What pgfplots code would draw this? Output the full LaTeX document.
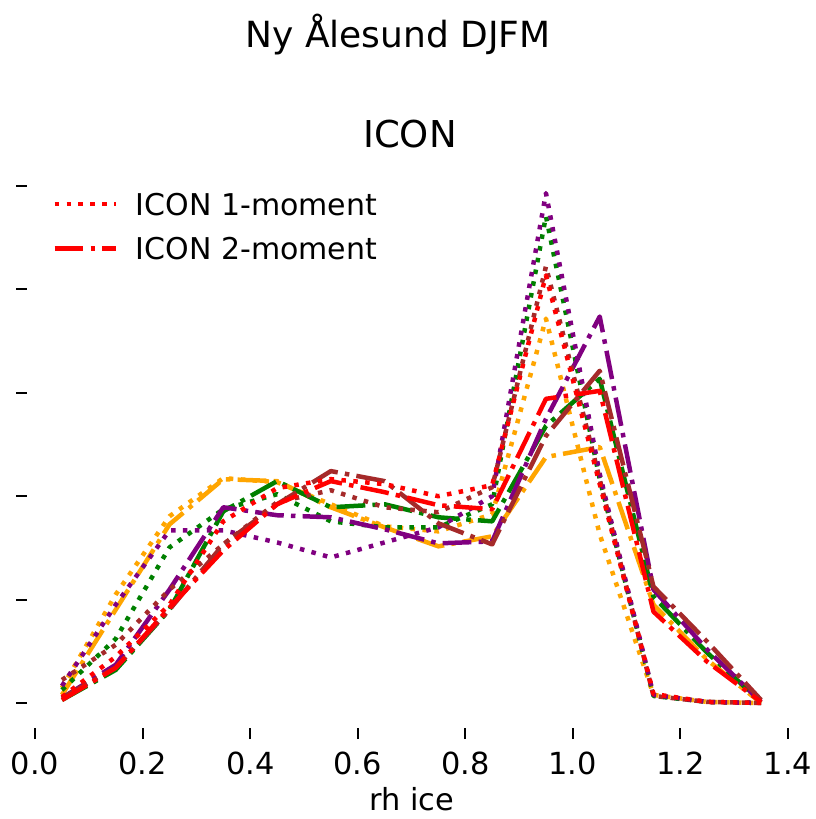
\documentclass[border=0pt]{standalone}
\usepackage{fontspec}
\setmainfont{DejaVu Sans}
\usepackage{pgfplots}
\pgfplotsset{compat=1.18}
\usepackage{pgfplotstable}

\definecolor{mplred}{RGB}{255,0,0}
\definecolor{mplgreen}{RGB}{0,128,0}
\definecolor{mplorange}{RGB}{255,165,0}
\definecolor{mplpurple}{RGB}{128,0,128}
\definecolor{mplbrown}{RGB}{165,42,42}

\pgfplotstableread{
x     dot    dd
0.05  0.058  0.029
0.15  0.447  0.340
0.25  0.951  0.922
0.35  1.757  1.476
0.45  2.078  1.922
0.55  2.165  2.146
0.65  2.117  2.039
0.75  2.000  1.913
0.85  2.107  1.874
0.95  4.136  2.942
1.05  2.117  3.019
1.15  0.087  0.883
1.25  0.010  0.398
1.35  0.000  0.010
}\redtab

\pgfplotstableread{
x     dot    dd
0.05  0.126  0.029
0.15  0.621  0.320
0.25  1.505  0.903
0.35  1.874  1.854
0.45  2.019  2.146
0.55  1.757  1.893
0.65  1.699  1.922
0.75  1.699  1.796
0.85  1.922  1.757
0.95  4.709  2.680
1.05  2.165  3.136
1.15  0.068  1.029
1.25  0.010  0.485
1.35  0.000  0.010
}\greentab

\pgfplotstableread{
x     dot    dd
0.05  0.146  0.078
0.15  1.049  0.903
0.25  1.806  1.728
0.35  2.175  2.165
0.45  2.136  2.146
0.55  1.922  1.893
0.65  1.709  1.699
0.75  1.660  1.515
0.85  1.825  1.612
0.95  3.718  2.379
1.05  1.631  2.476
1.15  0.078  0.951
1.25  0.010  0.417
1.35  0.000  0.000
}\orangetab

\pgfplotstableread{
x     dot    dd
0.05  0.165  0.049
0.15  0.951  0.369
0.25  1.670  1.097
0.35  1.670  1.893
0.45  1.553  1.816
0.55  1.408  1.796
0.65  1.553  1.680
0.75  1.699  1.544
0.85  2.000  1.563
0.95  4.932  2.748
1.05  2.214  3.738
1.15  0.078  1.097
1.25  0.010  0.515
1.35  0.000  0.010
}\purpletab

\pgfplotstableread{
x     dot    dd
0.05  0.223  0.049
0.15  0.563  0.340
0.25  1.097  0.903
0.35  1.534  1.534
0.45  1.942  1.922
0.55  2.058  2.243
0.65  1.893  2.146
0.75  1.845  1.738
0.85  2.087  1.534
0.95  4.223  2.583
1.05  2.165  3.214
1.15  0.068  1.126
1.25  0.010  0.592
1.35  0.000  0.029
}\browntab

\tikzset{
  dotl/.style={line width=2.25pt, dash pattern=on 2.25pt off 3.71pt, line join=round},
  ddl/.style={line width=2.25pt, dash pattern=on 14.4pt off 3.6pt on 2.25pt off 3.6pt, line join=round},
}

\begin{document}
\begin{tikzpicture}
\begin{axis}[
  at={(13.5pt,45.25pt)}, anchor=south west,
  scale only axis, width=384.5pt, height=280.5pt,
  xmin=-0.015, xmax=1.415, ymin=-0.247, ymax=5.18,
  axis x line*=bottom, axis y line*=left,
  axis line style={draw=none},
  xtick={0,0.2,0.4,0.6,0.8,1.0,1.2,1.4},
  xticklabels={0.0,0.2,0.4,0.6,0.8,1.0,1.2,1.4},
  ytick={0,1,2,3,4,5}, yticklabels={},
  tick align=outside, major tick length=5.25pt,
  tick style={black, line width=1pt},
  xticklabel style={font=\fontsize{15.2}{18}\selectfont, inner sep=0pt, anchor=north, yshift=-6.5pt},
  legend style={draw=none, fill=none, at={(0,1)}, anchor=north west,
    xshift=12.5pt, yshift=-12.5pt, inner xsep=0pt, inner ysep=0pt,
    font=\fontsize{15}{18}\selectfont, nodes={inner sep=0pt, text depth=0pt},
    row sep=11pt, /tikz/every odd column/.append style={column sep=9pt}},
  legend cell align=left,
  legend image code/.code={\draw[#1] (0pt,0pt) -- (30.5pt,0pt);},
]
\addplot[mplorange, dotl, forget plot] table[x=x, y=dot] {\orangetab};
\addplot[mplorange, ddl, forget plot] table[x=x, y=dd] {\orangetab};
\addplot[mplgreen, dotl, forget plot] table[x=x, y=dot] {\greentab};
\addplot[mplgreen, ddl, forget plot] table[x=x, y=dd] {\greentab};
\addplot[mplpurple, dotl, forget plot] table[x=x, y=dot] {\purpletab};
\addplot[mplpurple, ddl, forget plot] table[x=x, y=dd] {\purpletab};
\addplot[mplbrown, dotl, forget plot] table[x=x, y=dot] {\browntab};
\addplot[mplbrown, ddl, forget plot] table[x=x, y=dd] {\browntab};
\addplot[mplred, dotl] table[x=x, y=dot] {\redtab};
\addlegendentry{ICON 1-moment}
\addplot[mplred, ddl] table[x=x, y=dd] {\redtab};
\addlegendentry{ICON 2-moment}
\end{axis}
\node[anchor=base, font=\fontsize{18.5}{22}\selectfont] at (205pt,335.5pt) {ICON};
\node[anchor=base, font=\fontsize{18}{22}\selectfont] at (199pt,385.5pt) {Ny Ålesund DJFM};
\node[anchor=base, font=\fontsize{15.2}{18}\selectfont] at (205.75pt,4.5pt) {rh ice};
\pgfresetboundingbox
\path[use as bounding box] (0pt,0pt) rectangle (407.5pt,409.5pt);
\end{tikzpicture}
\end{document}
